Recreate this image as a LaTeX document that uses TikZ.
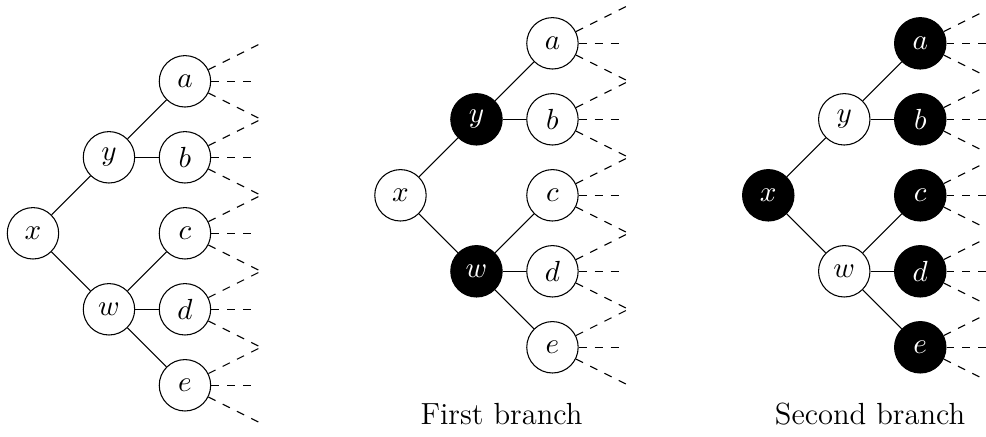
\documentclass[tikz,border=0pt]{standalone}
\usetikzlibrary{calc}
\tikzset{
  vert/.style={circle, draw, minimum size=0.68cm, inner sep=0pt, font=\fontsize{10.5}{12.5}\selectfont},
  chosen/.style={vert, fill=black, text=white},
  edge/.style={draw},
  leaf/.style={draw, dashed},
  caption/.style={anchor=base, font=\fontsize{11.5}{14}\selectfont},
}
% inner vertices of one tree: prefix #1, shift #2, styles of x,y,w,a,b,c,d in #3..#9
\newcommand{\searchtree}[9]{%
  \begin{scope}[shift={#2}]
    \node[#3] (#1x) at (0,0) {$x$};
    \node[#4] (#1y) at (1,1) {$y$};
    \node[#5] (#1w) at (1,-1) {$w$};
    \node[#6] (#1a) at (2,2) {$a$};
    \node[#7] (#1b) at (2,1) {$b$};
    \node[#8] (#1c) at (2,0) {$c$};
    \node[#9] (#1d) at (2,-1) {$d$};
  \end{scope}}
% last vertex, tree edges and dashed continuations
\newcommand{\treeleaves}[3]{%
  \begin{scope}[shift={#2}]
    \node[#3] (#1e) at (2,-2) {$e$};
    \draw[edge] (#1x) -- (#1y);
    \draw[edge] (#1x) -- (#1w);
    \draw[edge] (#1y) -- (#1a);
    \draw[edge] (#1y) -- (#1b);
    \draw[edge] (#1w) -- (#1c);
    \draw[edge] (#1w) -- (#1d);
    \draw[edge] (#1w) -- (#1e);
    \foreach \v/\h in {a/2,b/1,c/0,d/-1,e/-2}{
      \coordinate (#1\v up) at (3,\h+0.5);
      \coordinate (#1\v mid) at (2.92,\h);
      \coordinate (#1\v dn) at (3,\h-0.5);
      \draw[leaf] (#1\v) -- (#1\v up);
      \draw[leaf] (#1\v) -- (#1\v mid);
      \draw[leaf] (#1\v) -- (#1\v dn);
    }
  \end{scope}}
\begin{document}
\begin{tikzpicture}[x=1.005cm,y=1.005cm]
  \useasboundingbox (0,0) rectangle (12.975,-5.75);
  \begin{scope}
    \clip (0,0) rectangle (12.975,-5.75);
    % initial tree
    \searchtree{L}{(0.434,-3.07)}{vert}{vert}{vert}{vert}{vert}{vert}{vert}
    \treeleaves{L}{(0.434,-3.07)}{vert}
    % first branch
    \searchtree{M}{(5.27,-2.57)}{vert}{chosen}{chosen}{vert}{vert}{vert}{vert}
    \treeleaves{M}{(5.27,-2.57)}{vert}
    % second branch
    \searchtree{R}{(10.11,-2.57)}{chosen}{vert}{vert}{chosen}{chosen}{chosen}{chosen}
    \treeleaves{R}{(10.11,-2.57)}{chosen}
  \end{scope}
  \node[caption] (capM) at (6.6,-5.59) {First branch};
  \node[caption] (capR) at (11.45,-5.59) {Second branch};
\end{tikzpicture}
\end{document}
